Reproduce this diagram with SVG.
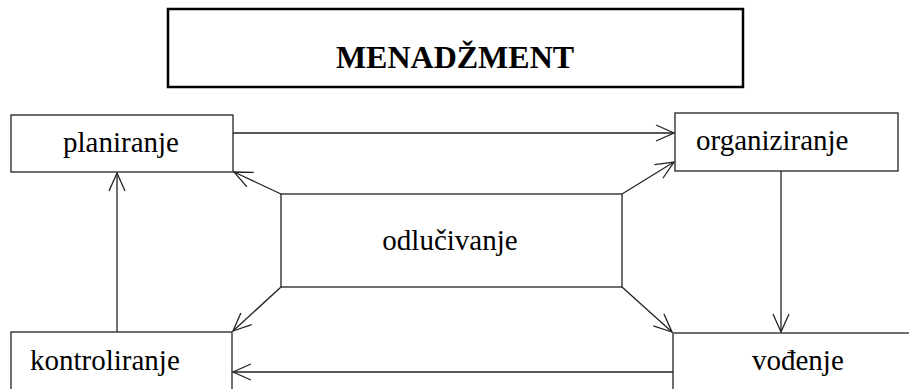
<svg xmlns="http://www.w3.org/2000/svg" width="909" height="389" viewBox="0 0 909 389">
<style>
.box{fill:#fff;stroke:#222;stroke-width:1.3}
.title{fill:#fff;stroke:#000;stroke-width:2.5}
.t{font-family:"Liberation Serif","Times New Roman",serif;font-size:29px;fill:#000}
.tb{font-family:"Liberation Serif","Times New Roman",serif;font-size:32px;font-weight:bold;fill:#000}
.c{fill:none;stroke:#222;stroke-width:1.3}
</style>
<defs>
<marker id="arr" markerUnits="userSpaceOnUse" markerWidth="22" markerHeight="20" viewBox="-20 -10 22 20" refX="0" refY="0" orient="auto">
<path d="M-18,-8 L0,0 L-18,8" fill="none" stroke="#222" stroke-width="1.3"/>
</marker>
</defs>
<rect width="909" height="389" fill="#fff"/>
<g id="menadzment">
<rect class="title" x="168" y="9" width="575" height="78"/>
<text class="tb" x="455" y="68" text-anchor="middle">MENADŽMENT</text>
</g>
<g id="planiranje">
<rect class="box" x="11" y="115" width="222" height="57"/>
<text class="t" x="63" y="152">planiranje</text>
</g>
<g id="organiziranje">
<rect class="box" x="675" y="113" width="223" height="58"/>
<text class="t" x="696" y="150">organiziranje</text>
</g>
<g id="odlucivanje">
<rect class="box" x="281" y="194" width="341" height="93"/>
<text class="t" x="450" y="250" text-anchor="middle">odlučivanje</text>
</g>
<g id="kontroliranje">
<rect class="box" x="11" y="332" width="221" height="70"/>
<text class="t" x="30" y="370">kontroliranje</text>
</g>
<g id="vodenje">
<rect class="box" x="673" y="333" width="250" height="70"/>
<text class="t" x="752" y="370">vođenje</text>
</g>
<g id="connectors">
<line class="c" x1="233" y1="133" x2="674" y2="133" marker-end="url(#arr)"/>
<line class="c" x1="622" y1="194" x2="674" y2="162" marker-end="url(#arr)"/>
<line class="c" x1="281" y1="194" x2="234" y2="172" marker-end="url(#arr)"/>
<line class="c" x1="117" y1="332" x2="117" y2="173" marker-end="url(#arr)"/>
<line class="c" x1="781" y1="171" x2="781" y2="332" marker-end="url(#arr)"/>
<line class="c" x1="622" y1="287" x2="672" y2="332" marker-end="url(#arr)"/>
<line class="c" x1="281" y1="287" x2="233" y2="331" marker-end="url(#arr)"/>
<line class="c" x1="673" y1="372" x2="233" y2="372" marker-end="url(#arr)"/>
</g>
</svg>
